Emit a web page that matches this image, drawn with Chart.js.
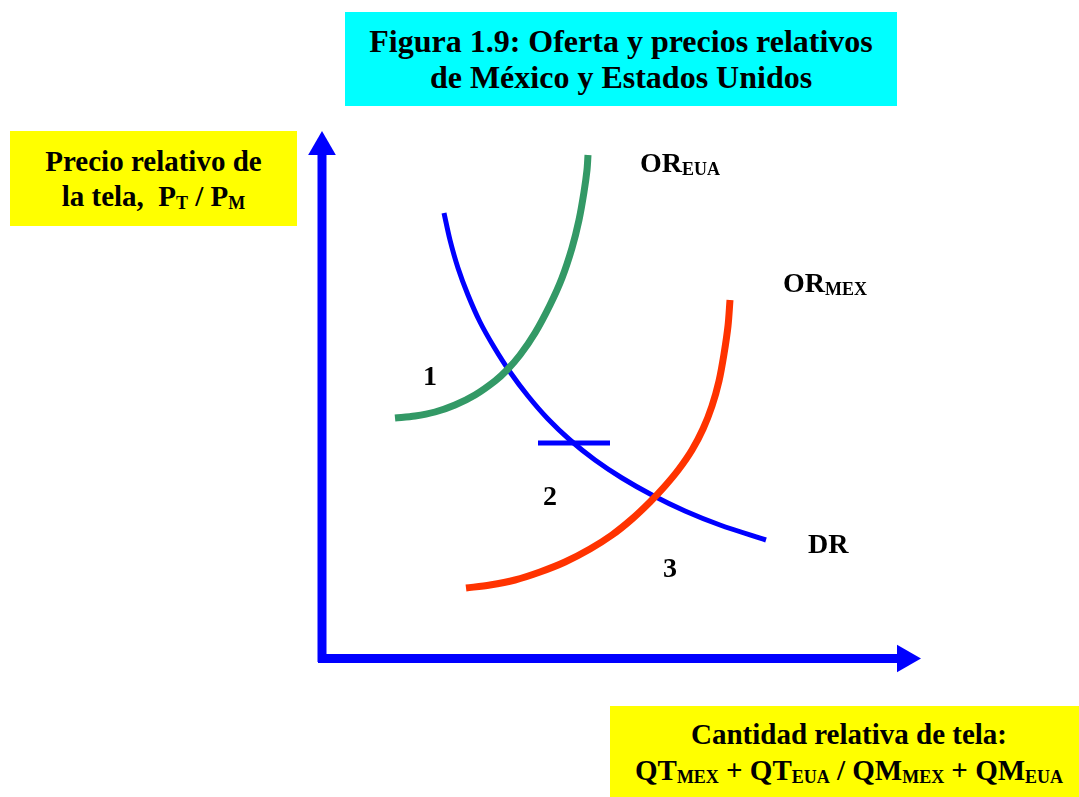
<!DOCTYPE html>
<html lang="es">
<head>
<meta charset="utf-8">
<title>Figura 1.9</title>
<script src="https://cdn.jsdelivr.net/npm/chart.js@4.4.1/dist/chart.umd.min.js"></script>
<style>
    body { margin: 0; background: #fff; }
    #lienzo { position: relative; width: 1079px; height: 797px; overflow: hidden;
        font-family: "Liberation Serif", "Times New Roman", serif; font-weight: bold; color: #000; }
    #grafico { position: absolute; left: 0; top: 0; }
    .caja { position: absolute; display: flex; align-items: center; justify-content: center; text-align: center; }
    .sub { font-size: 0.62em; vertical-align: -3px; line-height: 1; }
</style>
</head>
<body>
<div id="lienzo">
    <canvas id="grafico" width="1079" height="797"></canvas>
    <div class="caja" style="left:345px;top:12px;width:552px;height:94px;background:#00ffff;font-size:32px;line-height:36px">
        <div>Figura 1.9: Oferta y precios relativos<br>de México y Estados Unidos</div>
    </div>
    <div class="caja" style="left:10px;top:131px;width:287px;height:95px;background:#ffff00;font-size:29px;line-height:35px">
        <div>Precio relativo de<br>la tela,&nbsp; P<span class="sub">T</span> / P<span class="sub">M</span></div>
    </div>
    <div class="caja" style="left:610px;top:706px;width:478px;height:91px;background:#ffff00;font-size:29px;line-height:36px">
        <div>Cantidad relativa de tela:<br>QT<span class="sub">MEX</span> + QT<span class="sub">EUA</span> / QM<span class="sub">MEX</span> + QM<span class="sub">EUA</span></div>
    </div>
</div>
<script>
// curvas: [cantidad relativa, precio relativo]
const demandaRelativa = [
    [2.44, 8.90], [2.56, 8.36], [2.72, 7.80], [2.92, 7.26], [3.16, 6.72], [3.44, 6.22],
    [3.76, 5.72], [4.12, 5.24], [4.52, 4.78], [4.96, 4.36], [5.46, 3.96], [6.00, 3.60],
    [6.60, 3.26], [7.26, 2.94], [7.96, 2.66], [8.88, 2.36]
]
const ofertaEUA = [
    [1.46, 4.80], [1.86, 4.84], [2.26, 4.92], [2.66, 5.06], [3.06, 5.26], [3.46, 5.54],
    [3.70, 5.76], [3.96, 6.06], [4.26, 6.50], [4.56, 7.06], [4.80, 7.60], [5.00, 8.20],
    [5.14, 8.76], [5.24, 9.32], [5.30, 9.76], [5.32, 10.06]
]
const ofertaMEX = [
    [2.88, 1.40], [3.36, 1.46], [3.86, 1.56], [4.36, 1.72], [4.86, 1.92], [5.36, 2.18],
    [5.80, 2.46], [6.20, 2.78], [6.56, 3.12], [6.86, 3.44], [7.14, 3.78], [7.40, 4.16],
    [7.62, 4.58], [7.80, 5.04], [7.94, 5.54], [8.04, 6.08], [8.12, 6.64], [8.16, 7.16]
]
const precioMundial = [[4.32, 4.30], [5.76, 4.30]]

// ejes
const ejeY = [[0, -0.08], [0, 10.06]]
const ejeX = [[-0.08, -0.01], [11.52, -0.01]]
const puntasFlecha = [[0, 10.22], [11.66, -0.01]]

const aPuntos = lista => lista.map(p => ({ x: p[0], y: p[1] }))

const textos = {
    id: 'textos',
    afterDatasetsDraw(chart, args, opts) {
        const ctx = chart.ctx
        const sx = chart.scales.x
        const sy = chart.scales.y
        ctx.save()
        ctx.fillStyle = '#000'
        ctx.textAlign = 'left'
        ctx.textBaseline = 'alphabetic'
        opts.items.forEach(it => {
            let px = sx.getPixelForValue(it.x)
            let py = sy.getPixelForValue(it.y)
            ctx.font = 'bold 28px "Liberation Serif"'
            let w = ctx.measureText(it.texto).width
            ctx.font = 'bold 18px "Liberation Serif"'
            let ws = it.sub ? ctx.measureText(it.sub).width : 0
            let x0 = it.centro ? px - (w + ws) / 2 : px
            ctx.font = 'bold 28px "Liberation Serif"'
            ctx.fillText(it.texto, x0, py)
            if (it.sub) {
                ctx.font = 'bold 18px "Liberation Serif"'
                ctx.fillText(it.sub, x0 + w, py + 3)
            }
        })
        ctx.restore()
    }
}

const linea = (datos, color, ancho, orden) => ({
    data: aPuntos(datos),
    showLine: true,
    borderColor: color,
    borderWidth: ancho,
    pointRadius: 0,
    tension: 0.3,
    order: orden
})

new Chart(document.getElementById('grafico'), {
    type: 'scatter',
    data: {
        datasets: [
            linea(ofertaMEX, '#ff3300', 7, 1),
            linea(ofertaEUA, '#339966', 7, 1),
            linea(demandaRelativa, '#0000ff', 5, 2),
            linea(precioMundial, '#0000ff', 5, 2),
            linea(ejeY, '#0000ff', 9, 3),
            linea(ejeX, '#0000ff', 9, 3),
            {
                data: aPuntos(puntasFlecha),
                showLine: false,
                pointStyle: 'triangle',
                pointRadius: 16,
                rotation: [0, 90],
                backgroundColor: '#0000ff',
                borderWidth: 0,
                order: 3
            }
        ]
    },
    options: {
        responsive: false,
        animation: false,
        events: [],
        layout: { padding: 0, autoPadding: false },
        plugins: {
            legend: { display: false },
            tooltip: { enabled: false },
            textos: {
                items: [
                    { texto: '1', x: 2.16, y: 5.46, centro: true },
                    { texto: '2', x: 4.56, y: 3.06, centro: true },
                    { texto: '3', x: 6.96, y: 1.62, centro: true },
                    { texto: 'DR', x: 9.72, y: 2.10 },
                    { texto: 'OR', sub: 'EUA', x: 6.36, y: 9.72 },
                    { texto: 'OR', sub: 'MEX', x: 9.22, y: 7.32 }
                ]
            }
        },
        scales: {
            x: { type: 'linear', display: false, min: -6.44, max: 15.14 },
            y: { type: 'linear', display: false, min: -2.78, max: 13.16 }
        }
    },
    plugins: [textos]
})
</script>
</body>
</html>
